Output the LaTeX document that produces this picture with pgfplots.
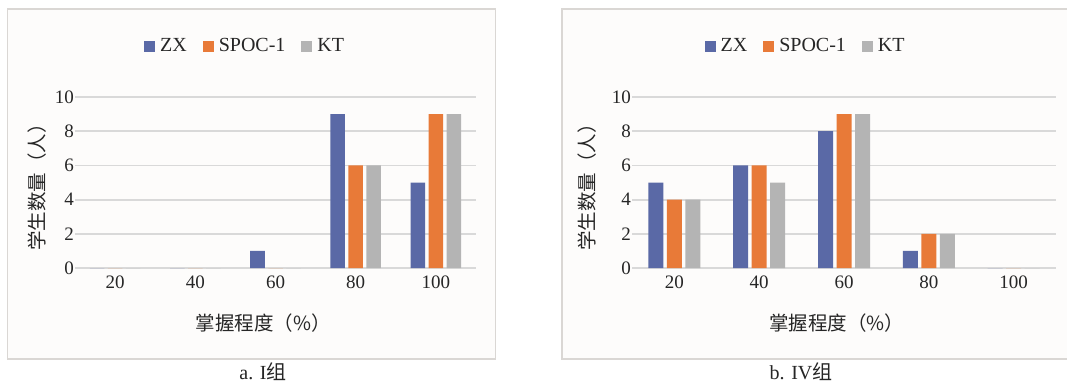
\documentclass[border=0pt]{standalone}
\usepackage{fontspec}
\setmainfont{Liberation Serif}
\newfontfamily\cjk{Noto Sans CJK SC}
\usepackage{pgfplots}
\pgfplotsset{compat=1.18}

\definecolor{zxblue}{HTML}{5A69A6}
\definecolor{spocorange}{HTML}{E87A38}
\definecolor{ktgray}{HTML}{B4B4B4}
\definecolor{gridgray}{HTML}{D9D9D9}
\definecolor{framegray}{HTML}{DAD7D4}
\definecolor{panelbg}{HTML}{FDFCFB}
\definecolor{txt}{HTML}{262626}

\newcommand{\tickfont}{\fontsize{19pt}{19pt}\selectfont}
\newcommand{\legfont}{\fontsize{20pt}{20pt}\selectfont}
\newcommand{\labfont}{\fontsize{19.5pt}{19.5pt}\selectfont\cjk}

\pgfplotsset{
  panel/.style={
    scale only axis,
    ybar=3.5pt,
    xmin=-0.5, xmax=4.5,
    ymin=0, ymax=10,
    xtick={0,...,4},
    xticklabels={20,40,60,80,100},
    ytick={0,2,...,10},
    ymajorgrids,
    grid style={gridgray, line width=1.8pt},
    axis line style={draw=none},
    major tick length=0pt,
    tick style={draw=none},
    /pgf/number format/assume math mode=true,
    ticklabel style={font=\tickfont, text=txt},
    yticklabel style={inner xsep=1pt},
    xticklabel style={inner sep=0pt, yshift=-8pt},
    clip=false,
    legend columns=3,
    legend style={draw=none, fill=none, font=\legfont, text=txt,
      /tikz/every even column/.append style={column sep=11pt},
      nodes={inner xsep=5pt, inner ysep=2pt}},
    legend image code/.code={\fill[##1] (0pt,-5.5pt) rectangle (11pt,5.5pt);},
    xlabel={掌握程度（\%）},
    ylabel={学生数量（人）},
  },
}

\begin{document}
\begin{tikzpicture}
\useasboundingbox (0pt,0pt) rectangle (1067pt,-383pt);
\fill[white] (0pt,0pt) rectangle (1067pt,-383pt);

% panel frames
\filldraw[fill=panelbg, draw=framegray, line width=1.5pt] (7.5pt,-9pt) rectangle (495.5pt,-359pt);
\filldraw[fill=panelbg, draw=framegray, line width=1.5pt] (562pt,-9pt) rectangle (1080pt,-359pt);

% a. group I
\begin{axis}[panel,
  at={(75pt,-268pt)}, anchor=south west,
  width=401pt, height=171pt,
  bar width=14.5pt,
  legend style={at={(0.428,1.298)}, anchor=center},
  every axis x label/.style={at={(axis description cs:0.469,-0.322)}, anchor=center, font=\labfont, text=txt},
  every axis y label/.style={at={(axis description cs:-0.095,0.5)}, rotate=90, anchor=center, font=\labfont, text=txt},
]
\addplot[fill=zxblue, draw=none] coordinates {(0,0) (1,0) (2,1) (3,9) (4,5)};
\addplot[fill=spocorange, draw=none] coordinates {(0,0) (1,0) (2,0) (3,6) (4,9)};
\addplot[fill=ktgray, draw=none] coordinates {(0,0) (1,0) (2,0) (3,6) (4,9)};
\legend{ZX, SPOC-1, KT}
\end{axis}

% b. group IV
\begin{axis}[panel,
  at={(632pt,-268pt)}, anchor=south west,
  width=424pt, height=171pt,
  bar width=15pt,
  legend style={at={(0.413,1.298)}, anchor=center},
  every axis x label/.style={at={(axis description cs:0.483,-0.322)}, anchor=center, font=\labfont, text=txt},
  every axis y label/.style={at={(axis description cs:-0.106,0.5)}, rotate=90, anchor=center, font=\labfont, text=txt},
]
\addplot[fill=zxblue, draw=none] coordinates {(0,5) (1,6) (2,8) (3,1) (4,0)};
\addplot[fill=spocorange, draw=none] coordinates {(0,4) (1,6) (2,9) (3,2) (4,0)};
\addplot[fill=ktgray, draw=none] coordinates {(0,4) (1,5) (2,9) (3,2) (4,0)};
\legend{ZX, SPOC-1, KT}
\end{axis}

% captions
\node[font=\fontsize{20pt}{20pt}\selectfont, text=txt, anchor=base] at (263pt,-379pt) {a. I{\cjk 组}};
\node[font=\fontsize{20pt}{20pt}\selectfont, text=txt, anchor=base] at (801pt,-379pt) {b. IV{\cjk 组}};
\end{tikzpicture}
\end{document}
